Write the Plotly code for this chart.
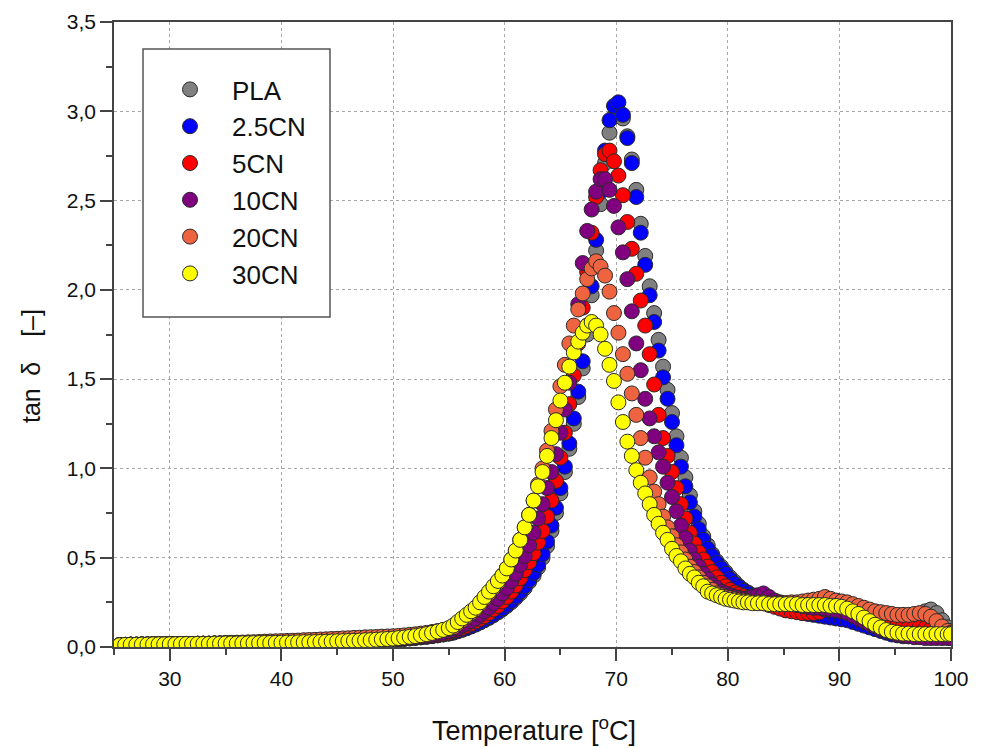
import plotly.graph_objects as go

# ---------------- data ----------------
series_names = ["PLA", "2.5CN", "5CN", "10CN", "20CN", "30CN"]
series_colors = ["#808080", "#0000FF", "#FF0000", "#800080", "#EE6440", "#FFFF00"]

T_flat = [25.5, 26.0, 26.5, 27.0, 27.5, 28.0, 28.5, 29.0, 29.5, 30.0,
          30.5, 31.0, 31.5, 32.0, 32.5, 33.0, 33.5, 34.0, 34.5, 35.0,
          35.5, 36.0, 36.5, 37.0, 37.5, 38.0, 38.5, 39.0, 39.5, 40.0,
          40.5, 41.0, 41.5, 42.0, 42.5, 43.0, 43.5, 44.0, 44.5, 45.0,
          45.5, 46.0, 46.5, 47.0, 47.5, 48.0, 48.5, 49.0, 49.5, 50.0]
T_pre = [50.5, 51.0, 51.5, 52.0, 52.5, 53.0, 53.5, 54.0, 54.5, 55.0]
T_peak = [55.4, 55.8, 56.2, 56.6, 57.0, 57.4, 57.8, 58.2, 58.6, 59.0,
          59.4, 59.8, 60.2, 60.6, 61.0, 61.4, 61.8, 62.2, 62.6, 63.0,
          63.4, 63.8, 64.2, 64.6, 65.0, 65.4, 65.8, 66.2, 66.6, 67.0,
          67.4, 67.8, 68.2, 68.6, 69.0, 69.4, 69.8, 70.2, 70.6, 71.0,
          71.4, 71.8, 72.2, 72.6, 73.0, 73.4, 73.8, 74.2, 74.6, 75.0,
          75.4, 75.8, 76.2, 76.6, 77.0, 77.4, 77.8, 78.2, 78.6, 79.0,
          79.4, 79.8, 80.2, 80.6, 81.0, 81.4, 81.8, 82.2]
T_tail = [82.7, 83.2, 83.7, 84.2, 84.7, 85.2, 85.7, 86.2, 86.7, 87.2,
          87.7, 88.2, 88.7, 89.2, 89.7, 90.2, 90.7, 91.2, 91.7, 92.2,
          92.7, 93.2, 93.7, 94.2, 94.7, 95.2, 95.7, 96.2, 96.7, 97.2,
          97.7, 98.2, 98.7, 99.2, 99.7, 100.0]

flat_base = [0.010, 0.012, 0.013, 0.013, 0.014, 0.014, 0.015, 0.015, 0.015, 0.016,
             0.016, 0.017, 0.017, 0.017, 0.018, 0.018, 0.018, 0.019, 0.019, 0.020,
             0.020, 0.020, 0.021, 0.021, 0.022, 0.022, 0.023, 0.023, 0.024, 0.024,
             0.025, 0.025, 0.026, 0.027, 0.027, 0.028, 0.029, 0.030, 0.031, 0.032,
             0.033, 0.034, 0.035, 0.036, 0.038, 0.039, 0.041, 0.043, 0.045, 0.047]
flat_20cn = [0.010, 0.012, 0.013, 0.013, 0.014, 0.014, 0.015, 0.015, 0.015, 0.016,
             0.016, 0.017, 0.017, 0.017, 0.018, 0.019, 0.019, 0.020, 0.021, 0.022,
             0.023, 0.024, 0.025, 0.026, 0.027, 0.028, 0.030, 0.031, 0.032, 0.033,
             0.034, 0.035, 0.036, 0.038, 0.039, 0.040, 0.042, 0.043, 0.045, 0.046,
             0.048, 0.049, 0.051, 0.052, 0.054, 0.055, 0.056, 0.058, 0.059, 0.060]

pla_pre = [0.044, 0.046, 0.048, 0.051, 0.054, 0.057, 0.061, 0.065, 0.070, 0.075]
pla_peak = [0.080, 0.088, 0.096, 0.105, 0.115, 0.125, 0.137, 0.150, 0.163, 0.178,
            0.194, 0.211, 0.230, 0.251, 0.275, 0.300, 0.330, 0.365, 0.400, 0.445,
            0.500, 0.565, 0.650, 0.750, 0.860, 0.980, 1.110, 1.250, 1.400, 1.560,
            1.750, 1.970, 2.220, 2.480, 2.710, 2.880, 2.970, 3.000, 2.960, 2.860,
            2.730, 2.560, 2.370, 2.190, 2.020, 1.870, 1.720, 1.570, 1.440, 1.310,
            1.180, 1.060, 0.950, 0.850, 0.760, 0.690, 0.620, 0.570, 0.520, 0.480,
            0.450, 0.420, 0.390, 0.365, 0.340, 0.320, 0.305, 0.290]
pla_tail = [0.275, 0.265, 0.255, 0.245, 0.235, 0.225, 0.215, 0.205, 0.195, 0.190,
            0.185, 0.180, 0.175, 0.170, 0.165, 0.160, 0.155, 0.150, 0.140, 0.130,
            0.120, 0.110, 0.100, 0.090, 0.085, 0.080, 0.085, 0.100, 0.130, 0.170,
            0.200, 0.210, 0.190, 0.150, 0.110, 0.090]

cn25_pre = [0.044, 0.046, 0.049, 0.052, 0.055, 0.058, 0.062, 0.066, 0.071, 0.076]
cn25_peak = [0.082, 0.090, 0.098, 0.107, 0.117, 0.128, 0.140, 0.153, 0.167, 0.182,
             0.198, 0.216, 0.236, 0.258, 0.283, 0.310, 0.340, 0.375, 0.415, 0.460,
             0.520, 0.590, 0.680, 0.780, 0.890, 1.010, 1.140, 1.280, 1.430, 1.600,
             1.800, 2.020, 2.280, 2.550, 2.780, 2.950, 3.030, 3.050, 2.980, 2.850,
             2.710, 2.520, 2.320, 2.140, 1.970, 1.820, 1.660, 1.510, 1.390, 1.260,
             1.130, 1.010, 0.900, 0.810, 0.730, 0.660, 0.600, 0.550, 0.510, 0.470,
             0.440, 0.410, 0.380, 0.355, 0.335, 0.315, 0.300, 0.285]
cn25_tail = [0.270, 0.260, 0.250, 0.240, 0.230, 0.220, 0.210, 0.200, 0.190, 0.185,
             0.180, 0.175, 0.170, 0.165, 0.160, 0.155, 0.150, 0.140, 0.130, 0.120,
             0.110, 0.100, 0.090, 0.080, 0.070, 0.065, 0.060, 0.060, 0.060, 0.060,
             0.060, 0.060, 0.060, 0.060, 0.060, 0.060]

cn5_pre = [0.045, 0.047, 0.050, 0.053, 0.056, 0.060, 0.064, 0.069, 0.074, 0.080]
cn5_peak = [0.088, 0.097, 0.107, 0.118, 0.130, 0.143, 0.157, 0.172, 0.190, 0.210,
            0.230, 0.255, 0.280, 0.310, 0.345, 0.385, 0.430, 0.475, 0.525, 0.585,
            0.650, 0.730, 0.820, 0.930, 1.060, 1.200, 1.360, 1.520, 1.700, 1.900,
            2.100, 2.320, 2.520, 2.670, 2.760, 2.780, 2.720, 2.640, 2.530, 2.380,
            2.230, 2.090, 1.940, 1.800, 1.640, 1.470, 1.300, 1.170, 1.070, 0.980,
            0.890, 0.800, 0.720, 0.640, 0.580, 0.530, 0.490, 0.450, 0.420, 0.390,
            0.360, 0.340, 0.320, 0.305, 0.295, 0.285, 0.275, 0.265]
cn5_tail = [0.255, 0.245, 0.235, 0.225, 0.215, 0.205, 0.200, 0.195, 0.190, 0.190,
            0.190, 0.195, 0.210, 0.220, 0.215, 0.210, 0.205, 0.195, 0.185, 0.175,
            0.165, 0.155, 0.145, 0.135, 0.125, 0.120, 0.115, 0.110, 0.110, 0.110,
            0.105, 0.100, 0.090, 0.085, 0.080, 0.080]

cn10_pre = [0.046, 0.049, 0.052, 0.055, 0.059, 0.063, 0.068, 0.074, 0.080, 0.087]
cn10_peak = [0.095, 0.105, 0.120, 0.130, 0.145, 0.160, 0.180, 0.200, 0.220, 0.245,
             0.270, 0.300, 0.330, 0.370, 0.410, 0.460, 0.510, 0.570, 0.640, 0.720,
             0.800, 0.890, 0.980, 1.080, 1.200, 1.330, 1.480, 1.680, 1.920, 2.150,
             2.330, 2.450, 2.550, 2.620, 2.620, 2.560, 2.470, 2.350, 2.210, 2.060,
             1.880, 1.700, 1.550, 1.390, 1.280, 1.180, 1.090, 1.010, 0.920, 0.840,
             0.760, 0.680, 0.610, 0.540, 0.490, 0.450, 0.410, 0.380, 0.350, 0.330,
             0.310, 0.300, 0.290, 0.280, 0.275, 0.270, 0.270, 0.280]
cn10_tail = [0.290, 0.300, 0.280, 0.260, 0.250, 0.245, 0.240, 0.235, 0.230, 0.225,
             0.220, 0.220, 0.215, 0.210, 0.205, 0.200, 0.190, 0.175, 0.160, 0.145,
             0.130, 0.115, 0.100, 0.090, 0.080, 0.070, 0.065, 0.060, 0.055, 0.055,
             0.050, 0.050, 0.050, 0.050, 0.050, 0.050]

cn20_pre = [0.062, 0.065, 0.068, 0.071, 0.075, 0.079, 0.084, 0.089, 0.095, 0.102]
cn20_peak = [0.110, 0.130, 0.150, 0.170, 0.190, 0.210, 0.240, 0.270, 0.300, 0.330,
             0.360, 0.400, 0.440, 0.490, 0.540, 0.600, 0.670, 0.740, 0.820, 0.910,
             1.000, 1.100, 1.210, 1.330, 1.460, 1.580, 1.700, 1.800, 1.890, 1.980,
             2.060, 2.120, 2.160, 2.130, 2.080, 1.990, 1.870, 1.760, 1.640, 1.530,
             1.420, 1.300, 1.170, 1.060, 0.950, 0.870, 0.800, 0.730, 0.670, 0.620,
             0.570, 0.530, 0.490, 0.450, 0.420, 0.390, 0.360, 0.340, 0.320, 0.300,
             0.290, 0.280, 0.275, 0.270, 0.265, 0.260, 0.255, 0.250]
cn20_tail = [0.250, 0.250, 0.245, 0.245, 0.245, 0.245, 0.250, 0.250, 0.255, 0.260,
             0.265, 0.270, 0.280, 0.270, 0.260, 0.255, 0.250, 0.240, 0.230, 0.220,
             0.210, 0.200, 0.195, 0.190, 0.185, 0.180, 0.180, 0.180, 0.185, 0.190,
             0.185, 0.170, 0.145, 0.115, 0.090, 0.080]

cn30_pre = [0.050, 0.053, 0.057, 0.061, 0.066, 0.072, 0.079, 0.087, 0.096, 0.106]
cn30_peak = [0.120, 0.140, 0.160, 0.180, 0.200, 0.220, 0.250, 0.280, 0.310, 0.340,
             0.370, 0.400, 0.440, 0.490, 0.540, 0.600, 0.670, 0.740, 0.820, 0.900,
             0.980, 1.070, 1.170, 1.270, 1.380, 1.480, 1.570, 1.650, 1.710, 1.760,
             1.800, 1.820, 1.800, 1.750, 1.670, 1.580, 1.490, 1.370, 1.260, 1.150,
             1.070, 0.990, 0.920, 0.860, 0.800, 0.740, 0.690, 0.640, 0.600, 0.550,
             0.510, 0.480, 0.440, 0.410, 0.390, 0.360, 0.340, 0.310, 0.300, 0.290,
             0.280, 0.270, 0.265, 0.260, 0.255, 0.250, 0.250, 0.245]
cn30_tail = [0.245, 0.245, 0.240, 0.240, 0.240, 0.240, 0.240, 0.240, 0.235, 0.235,
             0.235, 0.235, 0.235, 0.230, 0.230, 0.225, 0.215, 0.200, 0.185, 0.165,
             0.145, 0.125, 0.110, 0.095, 0.085, 0.080, 0.075, 0.075, 0.072, 0.072,
             0.072, 0.072, 0.072, 0.072, 0.072, 0.072]

y_tick_vals = [0.0, 0.5, 1.0, 1.5, 2.0, 2.5, 3.0, 3.5]
y_tick_text = ["0,0", "0,5", "1,0", "1,5", "2,0", "2,5", "3,0", "3,5"]
x_tick_vals = [30, 40, 50, 60, 70, 80, 90, 100]

# ---------------- assemble ----------------
temperature = T_flat + T_pre + T_peak + T_tail
series_values = [
    flat_base + pla_pre + pla_peak + pla_tail,
    flat_base + cn25_pre + cn25_peak + cn25_tail,
    flat_base + cn5_pre + cn5_peak + cn5_tail,
    flat_base + cn10_pre + cn10_peak + cn10_tail,
    flat_20cn + cn20_pre + cn20_peak + cn20_tail,
    flat_base + cn30_pre + cn30_peak + cn30_tail,
]
for v in series_values:
    assert len(v) == len(temperature), (len(v), len(temperature))

FONT = "Liberation Sans, Arial, Helvetica, sans-serif"
AX = "#444444"
TXT = "#111111"

fig = go.Figure()
for name, color, vals in zip(series_names, series_colors, series_values):
    fig.add_trace(go.Scatter(
        x=temperature, y=vals, mode="markers", name=name,
        legendgroup=name,
        marker=dict(size=15, color=color, line=dict(color="#2a2a2a", width=1)),
    ))

# Figure fills the 984x748 window (body margin removed by post_script).
W, H = 984, 748
L, R, T, B = 114, 951, 22, 647   # plot area in screen pixels


def px_x(p):  # screen px -> paper
    return (p - L) / (R - L)


def px_y(p):
    return (B - p) / (B - T)


fig.update_layout(
    width=W, height=H,
    margin=dict(l=L, r=W - R, t=T, b=H - B, pad=0),
    plot_bgcolor="white", paper_bgcolor="white",
    font=dict(family=FONT, color=TXT),
    showlegend=True,
    legend=dict(
        x=px_x(148), y=px_y(66), xanchor="left", yanchor="top",
        bgcolor="rgba(0,0,0,0)", borderwidth=0,
        font=dict(family=FONT, size=26, color=TXT),
        itemwidth=74, tracegroupgap=0,
    ),
    xaxis=dict(
        range=[25, 100], tickvals=x_tick_vals, automargin=False,
        ticks="outside", ticklen=12, tickwidth=1.5, tickcolor=AX,
        showline=True, linecolor=AX, linewidth=1.5, mirror=True,
        showgrid=True, gridcolor="#a8a8a8", griddash="dot", gridwidth=1,
        zeroline=False,
        tickfont=dict(family=FONT, size=21, color=TXT),
        minor=dict(dtick=5, tick0=0, ticks="outside", ticklen=6,
                   tickwidth=1.5, tickcolor=AX, showgrid=False),
    ),
    yaxis=dict(
        range=[0, 3.5], tickvals=y_tick_vals, ticktext=y_tick_text, automargin=False,
        ticks="outside", ticklen=12, tickwidth=1.5, tickcolor=AX,
        showline=True, linecolor=AX, linewidth=1.5, mirror=True,
        showgrid=True, gridcolor="#a8a8a8", griddash="dot", gridwidth=1,
        zeroline=False,
        tickfont=dict(family=FONT, size=21, color=TXT),
        minor=dict(dtick=0.25, tick0=0, ticks="outside", ticklen=6,
                   tickwidth=1.5, tickcolor=AX, showgrid=False),
    ),
    shapes=[dict(
        type="rect", xref="paper", yref="paper",
        x0=px_x(143), x1=px_x(330), y0=px_y(317), y1=px_y(49),
        line=dict(color="#555555", width=1.5), fillcolor="white", layer="above",
    )],
    annotations=[
        dict(text="Temperature [<sup>o</sup>C]", xref="paper", yref="paper",
             x=px_x(534), y=px_y(729), xanchor="center", yanchor="middle",
             showarrow=False, font=dict(family=FONT, size=27, color=TXT)),
        dict(text="tan\u2002δ\u2003[–]", xref="paper", yref="paper",
             x=px_x(31), y=px_y(366), xanchor="center", yanchor="middle",
             textangle=-90, showarrow=False,
             font=dict(family=FONT, size=25, color=TXT)),
    ],
)

fig.write_html(
    "out.html",
    config={"displayModeBar": False},
    post_script="document.body.style.margin='0px';document.body.style.overflow='hidden';",
)
